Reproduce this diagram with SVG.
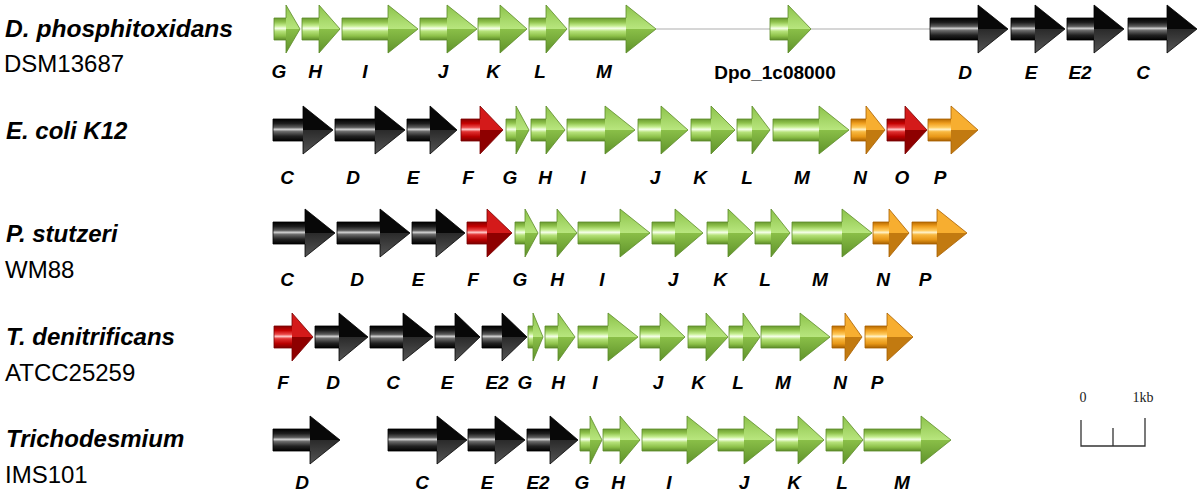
<svg xmlns="http://www.w3.org/2000/svg" width="1200" height="493" viewBox="0 0 1200 493">
<defs>
<linearGradient id="gB" x1="0" y1="0" x2="0" y2="1"><stop offset="0" stop-color="#6a9a30"/><stop offset="0.18" stop-color="#8fc24c"/><stop offset="0.36" stop-color="#c6ee92"/><stop offset="0.47" stop-color="#f6ffea"/><stop offset="0.6" stop-color="#b6e27a"/><stop offset="0.82" stop-color="#8cc048"/><stop offset="1" stop-color="#5c8a28"/></linearGradient>
<linearGradient id="gU" x1="0" y1="0" x2="0" y2="1"><stop offset="0" stop-color="#8cc24a"/><stop offset="1" stop-color="#b8e67e"/></linearGradient>
<linearGradient id="gL" x1="0" y1="0" x2="0" y2="1"><stop offset="0" stop-color="#8abf48"/><stop offset="1" stop-color="#5f922a"/></linearGradient>
<linearGradient id="kB" x1="0" y1="0" x2="0" y2="1"><stop offset="0" stop-color="#000"/><stop offset="0.2" stop-color="#1c1c1c"/><stop offset="0.38" stop-color="#5c5c5c"/><stop offset="0.47" stop-color="#d0d0d0"/><stop offset="0.57" stop-color="#6a6a6a"/><stop offset="0.78" stop-color="#222"/><stop offset="1" stop-color="#000"/></linearGradient>
<linearGradient id="kL" x1="0" y1="0" x2="0" y2="1"><stop offset="0" stop-color="#2a2a2a"/><stop offset="1" stop-color="#555"/></linearGradient>
<linearGradient id="rB" x1="0" y1="0" x2="0" y2="1"><stop offset="0" stop-color="#880000"/><stop offset="0.2" stop-color="#c40000"/><stop offset="0.38" stop-color="#ec4848"/><stop offset="0.47" stop-color="#ffc8c8"/><stop offset="0.58" stop-color="#e03030"/><stop offset="0.8" stop-color="#b80000"/><stop offset="1" stop-color="#7a0000"/></linearGradient>
<linearGradient id="oB" x1="0" y1="0" x2="0" y2="1"><stop offset="0" stop-color="#b86a00"/><stop offset="0.2" stop-color="#f0a020"/><stop offset="0.38" stop-color="#ffca5c"/><stop offset="0.47" stop-color="#fff2c8"/><stop offset="0.58" stop-color="#f8b840"/><stop offset="0.8" stop-color="#e89818"/><stop offset="1" stop-color="#a86000"/></linearGradient>
</defs>
<style>
.lab{font-family:"Liberation Sans",Arial,sans-serif;font-style:italic;font-weight:bold;font-size:19px;text-anchor:middle;fill:#000}
.dpo{font-family:"Liberation Sans",Arial,sans-serif;font-weight:bold;font-size:19px;text-anchor:middle;fill:#000}
.sp{font-family:"Liberation Sans",Arial,sans-serif;font-style:italic;font-weight:bold;font-size:24px;fill:#000}
.st{font-family:"Liberation Sans",Arial,sans-serif;font-size:24px;fill:#000}
.sc{font-family:"Liberation Serif","Times New Roman",serif;font-size:14px;fill:#222;text-anchor:middle}
.o{fill:none;stroke-width:0.8;stroke-linejoin:round}
.gr .b{fill:url(#gB)} .gr .u{fill:url(#gU)} .gr .l{fill:url(#gL)} .gr .o{stroke:#5c8a28}
.bk .b{fill:url(#kB)} .bk .u{fill:#080808} .bk .l{fill:url(#kL)} .bk .o{stroke:#000}
.rd .b{fill:url(#rB)} .rd .u{fill:#d41a1a} .rd .l{fill:#8e0000} .rd .o{stroke:#7a0000}
.or .b{fill:url(#oB)} .or .u{fill:#f7ae30} .or .l{fill:#c27a10} .or .o{stroke:#a86000}
.conn{stroke:#c8c8c8;stroke-width:1.3;fill:none}
.bar{stroke:#333;stroke-width:1.3;fill:none}
</style>
<rect width="1200" height="493" fill="#fff"/>

<g id="connectors"><path class="conn" d="M656,29H930"/></g>

<g id="sp1"><text class="sp" x="5" y="37" textLength="228" lengthAdjust="spacingAndGlyphs">D. phosphitoxidans</text><text class="st" x="4" y="72">DSM13687</text></g>
<g id="sp2"><text class="sp" x="6" y="139">E. coli K12</text></g>
<g id="sp3"><text class="sp" x="6" y="242">P. stutzeri</text><text class="st" x="5" y="278">WM88</text></g>
<g id="sp4"><text class="sp" x="6" y="345">T. denitrificans</text><text class="st" x="5" y="381">ATCC25259</text></g>
<g id="sp5"><text class="sp" x="6" y="447">Trichodesmium</text><text class="st" x="5" y="483">IMS101</text></g>

<!-- Row 1 -->
<g id="r1-G" class="gr"><g transform="translate(274,29)"><rect class="b" y="-11" width="12" height="22"/><path class="u" d="M12,-24L26,0H12Z"/><path class="l" d="M12,24L26,0H12Z"/><path class="o" d="M0,-11H12V-24L26,0L12,24V11H0Z"/></g><text class="lab" x="279" y="78">G</text></g>
<g id="r1-H" class="gr"><g transform="translate(302,29)"><rect class="b" y="-11" width="17" height="22"/><path class="u" d="M17,-24L38,0H17Z"/><path class="l" d="M17,24L38,0H17Z"/><path class="o" d="M0,-11H17V-24L38,0L17,24V11H0Z"/></g><text class="lab" x="315" y="78">H</text></g>
<g id="r1-I" class="gr"><g transform="translate(342,29)"><rect class="b" y="-11" width="46" height="22"/><path class="u" d="M46,-24L76,0H46Z"/><path class="l" d="M46,24L76,0H46Z"/><path class="o" d="M0,-11H46V-24L76,0L46,24V11H0Z"/></g><text class="lab" x="365" y="78">I</text></g>
<g id="r1-J" class="gr"><g transform="translate(420,29)"><rect class="b" y="-11" width="27" height="22"/><path class="u" d="M27,-24L57,0H27Z"/><path class="l" d="M27,24L57,0H27Z"/><path class="o" d="M0,-11H27V-24L57,0L27,24V11H0Z"/></g><text class="lab" x="443" y="78">J</text></g>
<g id="r1-K" class="gr"><g transform="translate(478,29)"><rect class="b" y="-11" width="22" height="22"/><path class="u" d="M22,-24L49,0H22Z"/><path class="l" d="M22,24L49,0H22Z"/><path class="o" d="M0,-11H22V-24L49,0L22,24V11H0Z"/></g><text class="lab" x="493" y="78">K</text></g>
<g id="r1-L" class="gr"><g transform="translate(529,29)"><rect class="b" y="-11" width="17" height="22"/><path class="u" d="M17,-24L38,0H17Z"/><path class="l" d="M17,24L38,0H17Z"/><path class="o" d="M0,-11H17V-24L38,0L17,24V11H0Z"/></g><text class="lab" x="540" y="78">L</text></g>
<g id="r1-M" class="gr"><g transform="translate(569,29)"><rect class="b" y="-11" width="57" height="22"/><path class="u" d="M57,-24L87,0H57Z"/><path class="l" d="M57,24L87,0H57Z"/><path class="o" d="M0,-11H57V-24L87,0L57,24V11H0Z"/></g><text class="lab" x="604" y="78">M</text></g>
<g id="r1-Dpo" class="gr"><g transform="translate(770,29)"><rect class="b" y="-11" width="18" height="22"/><path class="u" d="M18,-24L41,0H18Z"/><path class="l" d="M18,24L41,0H18Z"/><path class="o" d="M0,-11H18V-24L41,0L18,24V11H0Z"/></g><text class="dpo" x="775" y="79">Dpo_1c08000</text></g>
<g id="r1-D" class="bk"><g transform="translate(930,29)"><rect class="b" y="-11" width="48" height="22"/><path class="u" d="M48,-24L78,0H48Z"/><path class="l" d="M48,24L78,0H48Z"/><path class="o" d="M0,-11H48V-24L78,0L48,24V11H0Z"/></g><text class="lab" x="965" y="79">D</text></g>
<g id="r1-E" class="bk"><g transform="translate(1011,29)"><rect class="b" y="-11" width="24" height="22"/><path class="u" d="M24,-24L54,0H24Z"/><path class="l" d="M24,24L54,0H24Z"/><path class="o" d="M0,-11H24V-24L54,0L24,24V11H0Z"/></g><text class="lab" x="1031" y="79">E</text></g>
<g id="r1-E2" class="bk"><g transform="translate(1067,29)"><rect class="b" y="-11" width="27" height="22"/><path class="u" d="M27,-24L57,0H27Z"/><path class="l" d="M27,24L57,0H27Z"/><path class="o" d="M0,-11H27V-24L57,0L27,24V11H0Z"/></g><text class="lab" x="1080" y="79">E2</text></g>
<g id="r1-C" class="bk"><g transform="translate(1128,29)"><rect class="b" y="-11" width="39" height="22"/><path class="u" d="M39,-24L69,0H39Z"/><path class="l" d="M39,24L69,0H39Z"/><path class="o" d="M0,-11H39V-24L69,0L39,24V11H0Z"/></g><text class="lab" x="1143" y="79">C</text></g>

<!-- Row 2 -->
<g id="r2-C" class="bk"><g transform="translate(273,130)"><rect class="b" y="-11" width="30" height="22"/><path class="u" d="M30,-24L60,0H30Z"/><path class="l" d="M30,24L60,0H30Z"/><path class="o" d="M0,-11H30V-24L60,0L30,24V11H0Z"/></g><text class="lab" x="287" y="184">C</text></g>
<g id="r2-D" class="bk"><g transform="translate(335,130)"><rect class="b" y="-11" width="40" height="22"/><path class="u" d="M40,-24L70,0H40Z"/><path class="l" d="M40,24L70,0H40Z"/><path class="o" d="M0,-11H40V-24L70,0L40,24V11H0Z"/></g><text class="lab" x="353" y="184">D</text></g>
<g id="r2-E" class="bk"><g transform="translate(407,130)"><rect class="b" y="-11" width="23" height="22"/><path class="u" d="M23,-24L50,0H23Z"/><path class="l" d="M23,24L50,0H23Z"/><path class="o" d="M0,-11H23V-24L50,0L23,24V11H0Z"/></g><text class="lab" x="413" y="184">E</text></g>
<g id="r2-F" class="rd"><g transform="translate(461,130)"><rect class="b" y="-11" width="19" height="22"/><path class="u" d="M19,-24L42,0H19Z"/><path class="l" d="M19,24L42,0H19Z"/><path class="o" d="M0,-11H19V-24L42,0L19,24V11H0Z"/></g><text class="lab" x="468" y="184">F</text></g>
<g id="r2-G" class="gr"><g transform="translate(506,130)"><rect class="b" y="-11" width="10" height="22"/><path class="u" d="M10,-24L23,0H10Z"/><path class="l" d="M10,24L23,0H10Z"/><path class="o" d="M0,-11H10V-24L23,0L10,24V11H0Z"/></g><text class="lab" x="510" y="184">G</text></g>
<g id="r2-H" class="gr"><g transform="translate(531,130)"><rect class="b" y="-11" width="15" height="22"/><path class="u" d="M15,-24L34,0H15Z"/><path class="l" d="M15,24L34,0H15Z"/><path class="o" d="M0,-11H15V-24L34,0L15,24V11H0Z"/></g><text class="lab" x="545" y="184">H</text></g>
<g id="r2-I" class="gr"><g transform="translate(567,130)"><rect class="b" y="-11" width="38" height="22"/><path class="u" d="M38,-24L68,0H38Z"/><path class="l" d="M38,24L68,0H38Z"/><path class="o" d="M0,-11H38V-24L68,0L38,24V11H0Z"/></g><text class="lab" x="583" y="184">I</text></g>
<g id="r2-J" class="gr"><g transform="translate(638,130)"><rect class="b" y="-11" width="23" height="22"/><path class="u" d="M23,-24L50,0H23Z"/><path class="l" d="M23,24L50,0H23Z"/><path class="o" d="M0,-11H23V-24L50,0L23,24V11H0Z"/></g><text class="lab" x="655" y="184">J</text></g>
<g id="r2-K" class="gr"><g transform="translate(691,130)"><rect class="b" y="-11" width="20" height="22"/><path class="u" d="M20,-24L44,0H20Z"/><path class="l" d="M20,24L44,0H20Z"/><path class="o" d="M0,-11H20V-24L44,0L20,24V11H0Z"/></g><text class="lab" x="700" y="184">K</text></g>
<g id="r2-L" class="gr"><g transform="translate(737,130)"><rect class="b" y="-11" width="15" height="22"/><path class="u" d="M15,-24L33,0H15Z"/><path class="l" d="M15,24L33,0H15Z"/><path class="o" d="M0,-11H15V-24L33,0L15,24V11H0Z"/></g><text class="lab" x="747" y="184">L</text></g>
<g id="r2-M" class="gr"><g transform="translate(773,130)"><rect class="b" y="-11" width="46" height="22"/><path class="u" d="M46,-24L76,0H46Z"/><path class="l" d="M46,24L76,0H46Z"/><path class="o" d="M0,-11H46V-24L76,0L46,24V11H0Z"/></g><text class="lab" x="802" y="184">M</text></g>
<g id="r2-N" class="or"><g transform="translate(851,130)"><rect class="b" y="-11" width="15" height="22"/><path class="u" d="M15,-24L34,0H15Z"/><path class="l" d="M15,24L34,0H15Z"/><path class="o" d="M0,-11H15V-24L34,0L15,24V11H0Z"/></g><text class="lab" x="860" y="184">N</text></g>
<g id="r2-O" class="rd"><g transform="translate(887,130)"><rect class="b" y="-11" width="18" height="22"/><path class="u" d="M18,-24L40,0H18Z"/><path class="l" d="M18,24L40,0H18Z"/><path class="o" d="M0,-11H18V-24L40,0L18,24V11H0Z"/></g><text class="lab" x="902" y="184">O</text></g>
<g id="r2-P" class="or"><g transform="translate(928,130)"><rect class="b" y="-11" width="23" height="22"/><path class="u" d="M23,-24L50,0H23Z"/><path class="l" d="M23,24L50,0H23Z"/><path class="o" d="M0,-11H23V-24L50,0L23,24V11H0Z"/></g><text class="lab" x="940" y="184">P</text></g>

<!-- Row 3 -->
<g id="r3-C" class="bk"><g transform="translate(273,233)"><rect class="b" y="-11" width="32" height="22"/><path class="u" d="M32,-24L62,0H32Z"/><path class="l" d="M32,24L62,0H32Z"/><path class="o" d="M0,-11H32V-24L62,0L32,24V11H0Z"/></g><text class="lab" x="287" y="286">C</text></g>
<g id="r3-D" class="bk"><g transform="translate(337,233)"><rect class="b" y="-11" width="43" height="22"/><path class="u" d="M43,-24L73,0H43Z"/><path class="l" d="M43,24L73,0H43Z"/><path class="o" d="M0,-11H43V-24L73,0L43,24V11H0Z"/></g><text class="lab" x="357" y="286">D</text></g>
<g id="r3-E" class="bk"><g transform="translate(412,233)"><rect class="b" y="-11" width="24" height="22"/><path class="u" d="M24,-24L53,0H24Z"/><path class="l" d="M24,24L53,0H24Z"/><path class="o" d="M0,-11H24V-24L53,0L24,24V11H0Z"/></g><text class="lab" x="418" y="286">E</text></g>
<g id="r3-F" class="rd"><g transform="translate(467,233)"><rect class="b" y="-11" width="20" height="22"/><path class="u" d="M20,-24L45,0H20Z"/><path class="l" d="M20,24L45,0H20Z"/><path class="o" d="M0,-11H20V-24L45,0L20,24V11H0Z"/></g><text class="lab" x="473" y="286">F</text></g>
<g id="r3-G" class="gr"><g transform="translate(515,233)"><rect class="b" y="-11" width="10" height="22"/><path class="u" d="M10,-24L23,0H10Z"/><path class="l" d="M10,24L23,0H10Z"/><path class="o" d="M0,-11H10V-24L23,0L10,24V11H0Z"/></g><text class="lab" x="520" y="286">G</text></g>
<g id="r3-H" class="gr"><g transform="translate(540,233)"><rect class="b" y="-11" width="17" height="22"/><path class="u" d="M17,-24L37,0H17Z"/><path class="l" d="M17,24L37,0H17Z"/><path class="o" d="M0,-11H17V-24L37,0L17,24V11H0Z"/></g><text class="lab" x="557" y="286">H</text></g>
<g id="r3-I" class="gr"><g transform="translate(578,233)"><rect class="b" y="-11" width="42" height="22"/><path class="u" d="M42,-24L72,0H42Z"/><path class="l" d="M42,24L72,0H42Z"/><path class="o" d="M0,-11H42V-24L72,0L42,24V11H0Z"/></g><text class="lab" x="602" y="286">I</text></g>
<g id="r3-J" class="gr"><g transform="translate(652,233)"><rect class="b" y="-11" width="23" height="22"/><path class="u" d="M23,-24L51,0H23Z"/><path class="l" d="M23,24L51,0H23Z"/><path class="o" d="M0,-11H23V-24L51,0L23,24V11H0Z"/></g><text class="lab" x="673" y="286">J</text></g>
<g id="r3-K" class="gr"><g transform="translate(707,233)"><rect class="b" y="-11" width="21" height="22"/><path class="u" d="M21,-24L46,0H21Z"/><path class="l" d="M21,24L46,0H21Z"/><path class="o" d="M0,-11H21V-24L46,0L21,24V11H0Z"/></g><text class="lab" x="720" y="286">K</text></g>
<g id="r3-L" class="gr"><g transform="translate(755,233)"><rect class="b" y="-11" width="16" height="22"/><path class="u" d="M16,-24L35,0H16Z"/><path class="l" d="M16,24L35,0H16Z"/><path class="o" d="M0,-11H16V-24L35,0L16,24V11H0Z"/></g><text class="lab" x="765" y="286">L</text></g>
<g id="r3-M" class="gr"><g transform="translate(792,233)"><rect class="b" y="-11" width="50" height="22"/><path class="u" d="M50,-24L80,0H50Z"/><path class="l" d="M50,24L80,0H50Z"/><path class="o" d="M0,-11H50V-24L80,0L50,24V11H0Z"/></g><text class="lab" x="820" y="286">M</text></g>
<g id="r3-N" class="or"><g transform="translate(873,233)"><rect class="b" y="-11" width="16" height="22"/><path class="u" d="M16,-24L36,0H16Z"/><path class="l" d="M16,24L36,0H16Z"/><path class="o" d="M0,-11H16V-24L36,0L16,24V11H0Z"/></g><text class="lab" x="883" y="286">N</text></g>
<g id="r3-P" class="or"><g transform="translate(912,233)"><rect class="b" y="-11" width="25" height="22"/><path class="u" d="M25,-24L55,0H25Z"/><path class="l" d="M25,24L55,0H25Z"/><path class="o" d="M0,-11H25V-24L55,0L25,24V11H0Z"/></g><text class="lab" x="925" y="286">P</text></g>

<!-- Row 4 -->
<g id="r4-F" class="rd"><g transform="translate(274,337)"><rect class="b" y="-11" width="18" height="22"/><path class="u" d="M18,-24L39,0H18Z"/><path class="l" d="M18,24L39,0H18Z"/><path class="o" d="M0,-11H18V-24L39,0L18,24V11H0Z"/></g><text class="lab" x="283" y="389">F</text></g>
<g id="r4-D" class="bk"><g transform="translate(315,337)"><rect class="b" y="-11" width="24" height="22"/><path class="u" d="M24,-24L53,0H24Z"/><path class="l" d="M24,24L53,0H24Z"/><path class="o" d="M0,-11H24V-24L53,0L24,24V11H0Z"/></g><text class="lab" x="333" y="389">D</text></g>
<g id="r4-C" class="bk"><g transform="translate(370,337)"><rect class="b" y="-11" width="33" height="22"/><path class="u" d="M33,-24L63,0H33Z"/><path class="l" d="M33,24L63,0H33Z"/><path class="o" d="M0,-11H33V-24L63,0L33,24V11H0Z"/></g><text class="lab" x="393" y="389">C</text></g>
<g id="r4-E" class="bk"><g transform="translate(435,337)"><rect class="b" y="-11" width="20" height="22"/><path class="u" d="M20,-24L45,0H20Z"/><path class="l" d="M20,24L45,0H20Z"/><path class="o" d="M0,-11H20V-24L45,0L20,24V11H0Z"/></g><text class="lab" x="447" y="389">E</text></g>
<g id="r4-E2" class="bk"><g transform="translate(482,337)"><rect class="b" y="-11" width="20" height="22"/><path class="u" d="M20,-24L45,0H20Z"/><path class="l" d="M20,24L45,0H20Z"/><path class="o" d="M0,-11H20V-24L45,0L20,24V11H0Z"/></g><text class="lab" x="497" y="389">E2</text></g>
<g id="r4-G" class="gr"><g transform="translate(528,337)"><rect class="b" y="-11" width="5" height="22"/><path class="u" d="M5,-24L15,0H5Z"/><path class="l" d="M5,24L15,0H5Z"/><path class="o" d="M0,-11H5V-24L15,0L5,24V11H0Z"/></g><text class="lab" x="525" y="389">G</text></g>
<g id="r4-H" class="gr"><g transform="translate(545,337)"><rect class="b" y="-11" width="13" height="22"/><path class="u" d="M13,-24L30,0H13Z"/><path class="l" d="M13,24L30,0H13Z"/><path class="o" d="M0,-11H13V-24L30,0L13,24V11H0Z"/></g><text class="lab" x="558" y="389">H</text></g>
<g id="r4-I" class="gr"><g transform="translate(578,337)"><rect class="b" y="-11" width="30" height="22"/><path class="u" d="M30,-24L60,0H30Z"/><path class="l" d="M30,24L60,0H30Z"/><path class="o" d="M0,-11H30V-24L60,0L30,24V11H0Z"/></g><text class="lab" x="595" y="389">I</text></g>
<g id="r4-J" class="gr"><g transform="translate(640,337)"><rect class="b" y="-11" width="20" height="22"/><path class="u" d="M20,-24L45,0H20Z"/><path class="l" d="M20,24L45,0H20Z"/><path class="o" d="M0,-11H20V-24L45,0L20,24V11H0Z"/></g><text class="lab" x="658" y="389">J</text></g>
<g id="r4-K" class="gr"><g transform="translate(688,337)"><rect class="b" y="-11" width="18" height="22"/><path class="u" d="M18,-24L40,0H18Z"/><path class="l" d="M18,24L40,0H18Z"/><path class="o" d="M0,-11H18V-24L40,0L18,24V11H0Z"/></g><text class="lab" x="698" y="389">K</text></g>
<g id="r4-L" class="gr"><g transform="translate(729,337)"><rect class="b" y="-11" width="14" height="22"/><path class="u" d="M14,-24L31,0H14Z"/><path class="l" d="M14,24L31,0H14Z"/><path class="o" d="M0,-11H14V-24L31,0L14,24V11H0Z"/></g><text class="lab" x="738" y="389">L</text></g>
<g id="r4-M" class="gr"><g transform="translate(761,337)"><rect class="b" y="-11" width="39" height="22"/><path class="u" d="M39,-24L69,0H39Z"/><path class="l" d="M39,24L69,0H39Z"/><path class="o" d="M0,-11H39V-24L69,0L39,24V11H0Z"/></g><text class="lab" x="783" y="389">M</text></g>
<g id="r4-N" class="or"><g transform="translate(832,337)"><rect class="b" y="-11" width="13" height="22"/><path class="u" d="M13,-24L30,0H13Z"/><path class="l" d="M13,24L30,0H13Z"/><path class="o" d="M0,-11H13V-24L30,0L13,24V11H0Z"/></g><text class="lab" x="840" y="389">N</text></g>
<g id="r4-P" class="or"><g transform="translate(865,337)"><rect class="b" y="-11" width="22" height="22"/><path class="u" d="M22,-24L48,0H22Z"/><path class="l" d="M22,24L48,0H22Z"/><path class="o" d="M0,-11H22V-24L48,0L22,24V11H0Z"/></g><text class="lab" x="877" y="389">P</text></g>

<!-- Row 5 -->
<g id="r5-D" class="bk"><g transform="translate(273,440)"><rect class="b" y="-11" width="37" height="22"/><path class="u" d="M37,-24L67,0H37Z"/><path class="l" d="M37,24L67,0H37Z"/><path class="o" d="M0,-11H37V-24L67,0L37,24V11H0Z"/></g><text class="lab" x="302" y="489">D</text></g>
<g id="r5-C" class="bk"><g transform="translate(388,440)"><rect class="b" y="-11" width="49" height="22"/><path class="u" d="M49,-24L79,0H49Z"/><path class="l" d="M49,24L79,0H49Z"/><path class="o" d="M0,-11H49V-24L79,0L49,24V11H0Z"/></g><text class="lab" x="422" y="489">C</text></g>
<g id="r5-E" class="bk"><g transform="translate(468,440)"><rect class="b" y="-11" width="27" height="22"/><path class="u" d="M27,-24L57,0H27Z"/><path class="l" d="M27,24L57,0H27Z"/><path class="o" d="M0,-11H27V-24L57,0L27,24V11H0Z"/></g><text class="lab" x="487" y="489">E</text></g>
<g id="r5-E2" class="bk"><g transform="translate(527,440)"><rect class="b" y="-11" width="23" height="22"/><path class="u" d="M23,-24L51,0H23Z"/><path class="l" d="M23,24L51,0H23Z"/><path class="o" d="M0,-11H23V-24L51,0L23,24V11H0Z"/></g><text class="lab" x="538" y="489">E2</text></g>
<g id="r5-G" class="gr"><g transform="translate(580,440)"><rect class="b" y="-11" width="10" height="22"/><path class="u" d="M10,-24L22,0H10Z"/><path class="l" d="M10,24L22,0H10Z"/><path class="o" d="M0,-11H10V-24L22,0L10,24V11H0Z"/></g><text class="lab" x="582" y="489">G</text></g>
<g id="r5-H" class="gr"><g transform="translate(603,440)"><rect class="b" y="-11" width="17" height="22"/><path class="u" d="M17,-24L37,0H17Z"/><path class="l" d="M17,24L37,0H17Z"/><path class="o" d="M0,-11H17V-24L37,0L17,24V11H0Z"/></g><text class="lab" x="618" y="489">H</text></g>
<g id="r5-I" class="gr"><g transform="translate(642,440)"><rect class="b" y="-11" width="45" height="22"/><path class="u" d="M45,-24L75,0H45Z"/><path class="l" d="M45,24L75,0H45Z"/><path class="o" d="M0,-11H45V-24L75,0L45,24V11H0Z"/></g><text class="lab" x="669" y="489">I</text></g>
<g id="r5-J" class="gr"><g transform="translate(718,440)"><rect class="b" y="-11" width="26" height="22"/><path class="u" d="M26,-24L56,0H26Z"/><path class="l" d="M26,24L56,0H26Z"/><path class="o" d="M0,-11H26V-24L56,0L26,24V11H0Z"/></g><text class="lab" x="744" y="489">J</text></g>
<g id="r5-K" class="gr"><g transform="translate(776,440)"><rect class="b" y="-11" width="22" height="22"/><path class="u" d="M22,-24L48,0H22Z"/><path class="l" d="M22,24L48,0H22Z"/><path class="o" d="M0,-11H22V-24L48,0L22,24V11H0Z"/></g><text class="lab" x="794" y="489">K</text></g>
<g id="r5-L" class="gr"><g transform="translate(826,440)"><rect class="b" y="-11" width="17" height="22"/><path class="u" d="M17,-24L37,0H17Z"/><path class="l" d="M17,24L37,0H17Z"/><path class="o" d="M0,-11H17V-24L37,0L17,24V11H0Z"/></g><text class="lab" x="842" y="489">L</text></g>
<g id="r5-M" class="gr"><g transform="translate(864,440)"><rect class="b" y="-11" width="57" height="22"/><path class="u" d="M57,-24L87,0H57Z"/><path class="l" d="M57,24L87,0H57Z"/><path class="o" d="M0,-11H57V-24L87,0L57,24V11H0Z"/></g><text class="lab" x="902" y="489">M</text></g>

<g id="scalebar"><text class="sc" x="1083" y="402">0</text><text class="sc" x="1143" y="402">1kb</text><path class="bar" d="M1081,420V446H1145V418M1113,428V446"/></g>
</svg>
